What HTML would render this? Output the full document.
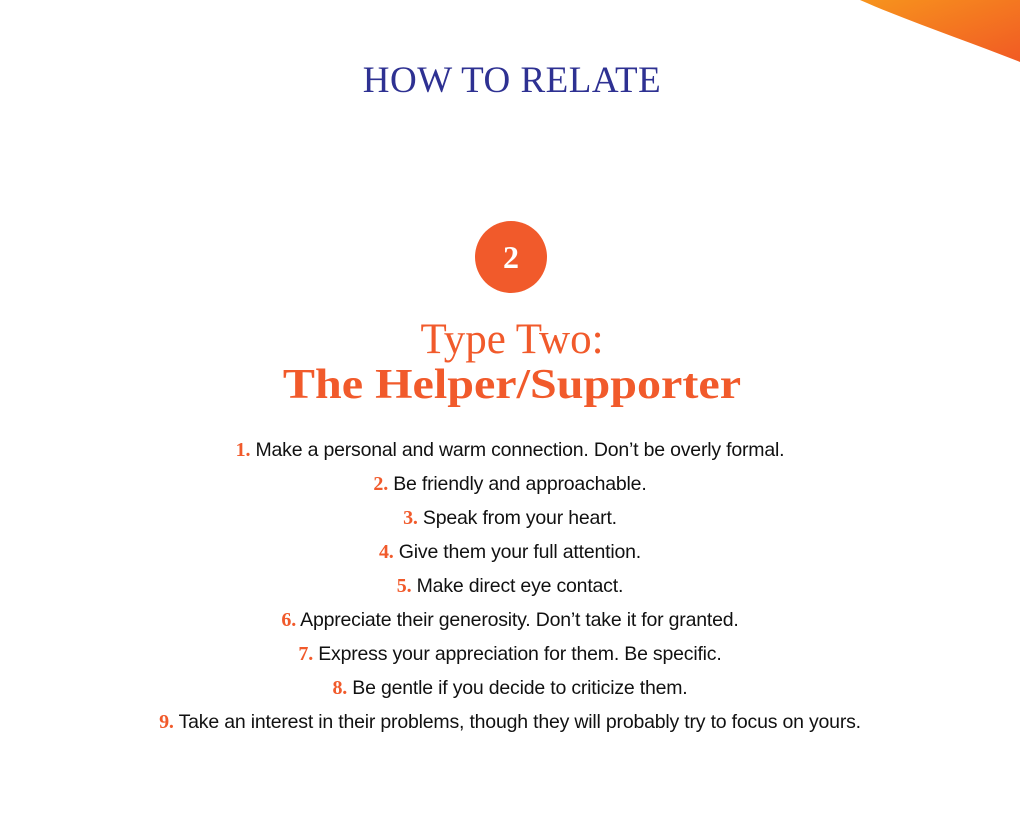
<!DOCTYPE html>
<html><head><style>
body{margin:0;width:1020px;height:816px;background:#fff;position:relative;overflow:hidden;font-family:"Liberation Sans",sans-serif}
.t{position:absolute;left:0;width:1020px;text-align:center;white-space:nowrap}
.h{top:59px;font-family:"Liberation Serif",serif;font-size:37px;letter-spacing:0.5px;color:#2e3192;left:2px}
.c{position:absolute;left:475px;top:221px;width:72px;height:72px;border-radius:50%;background:#f15a2b;color:#fff;font:bold 32px "Liberation Serif",serif;text-align:center;line-height:72px}
.s1{top:315px;font:43px "Liberation Serif",serif;color:#f15a2b;left:2px}
.s2{top:361px;font:bold 42px "Liberation Serif",serif;color:#f15a2b;left:2px;transform:scaleX(1.145)}
.l{font-size:19.5px;color:#111;letter-spacing:-0.2px}
.l b{font-family:"Liberation Serif",serif;color:#f15a2b;font-size:20px}
</style></head><body>
<svg style="position:absolute;left:0;top:0" width="1020" height="816">
<defs><linearGradient id="g" x1="0" y1="0" x2="1" y2="1"><stop offset="0" stop-color="#f7941d"/><stop offset="1" stop-color="#f15a24"/></linearGradient></defs>
<path d="M860 0 C910 22 970 42 1020 62 L1020 0 Z" fill="url(#g)"/>
</svg>
<div class="t h">HOW TO RELATE</div>
<div class="c">2</div>
<div class="t s1">Type Two:</div>
<div class="t s2">The Helper/Supporter</div>
<div class="t l" style="top:439px"><b>1.</b> Make a personal and warm connection. Don’t be overly formal.</div>
<div class="t l" style="top:473px"><b>2.</b> Be friendly and approachable.</div>
<div class="t l" style="top:507px"><b>3.</b> Speak from your heart.</div>
<div class="t l" style="top:541px"><b>4.</b> Give them your full attention.</div>
<div class="t l" style="top:575px"><b>5.</b> Make direct eye contact.</div>
<div class="t l" style="top:609px"><b>6.</b> Appreciate their generosity. Don’t take it for granted.</div>
<div class="t l" style="top:643px"><b>7.</b> Express your appreciation for them. Be specific.</div>
<div class="t l" style="top:677px"><b>8.</b> Be gentle if you decide to criticize them.</div>
<div class="t l" style="top:711px"><b>9.</b> Take an interest in their problems, though they will probably try to focus on yours.</div>
</body></html>
